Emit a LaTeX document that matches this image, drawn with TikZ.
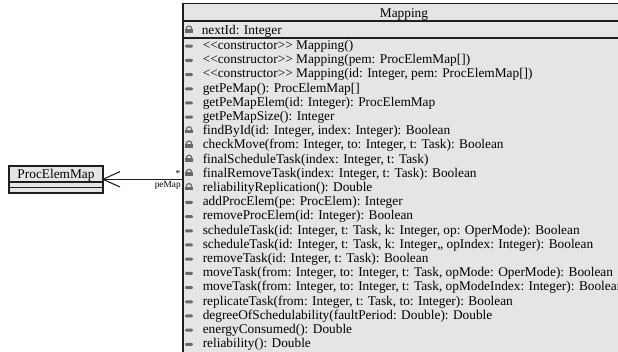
\documentclass[tikz,border=0pt]{standalone}
\usepackage{fontspec}
\setmainfont{Liberation Serif}
\definecolor{umlgray}{RGB}{229,229,229}
\definecolor{umlline}{RGB}{30,30,30}
\definecolor{icongray}{RGB}{105,105,105}
\newcommand\umlstereo[1]{<\kern0pt<#1>\kern0pt>}
\tikzset{
  classbox/.style={fill=umlgray, draw=umlline, line width=0.8pt},
  sepline/.style={draw=umlline, line width=0.8pt},
  member/.style={anchor=base west, inner sep=0pt, font=\fontsize{10}{12}\selectfont},
  titletext/.style={anchor=base, inner sep=0pt, font=\fontsize{10}{12}\selectfont},
  rolelabel/.style={anchor=base east, inner sep=0pt, font=\fontsize{7}{8}\selectfont},
  lockicon/.pic={
    \fill[icongray] (-3.6,-0.4) rectangle (3.6,3.2);
    \draw[icongray, line width=0.9pt] (-2.8,-0.4) .. controls (-2.8,-4.6) and (2.8,-4.6) .. (2.8,-0.4);
  },
  baricon/.pic={
    \fill[icongray, rounded corners=0.8pt] (-3.8,-0.4) rectangle (3.8,2.6);
  }
}
\begin{document}
\begin{tikzpicture}[x=0.75pt,y=-0.75pt]
\useasboundingbox (0,0) rectangle (618,352);
\fill[white] (0,0) rectangle (618,352);

% Mapping class
\path[classbox] (183,3.8) rectangle (626,362);
\draw[sepline] (183,21) -- (626,21);
\draw[sepline] (183,38) -- (626,38);
\node[titletext] (maptitle) at (404,17.2) {Mapping};
\node (mapleft) at (183,179.3) {};
\pic at (189,29.5) {lockicon};
\node[member] (attr) at (201.5,34.2) {nextId: Integer};

\foreach \t [count=\i from 0] in {
  {\umlstereo{constructor} Mapping()},
  {\umlstereo{constructor} Mapping(pem: ProcElemMap[])},
  {\umlstereo{constructor} Mapping(id: Integer, pem: ProcElemMap[])},
  {getPeMap(): ProcElemMap[]},
  {getPeMapElem(id: Integer): ProcElemMap},
  {getPeMapSize(): Integer},
  {findById(id: Integer, index: Integer): Boolean},
  {checkMove(from: Integer, to: Integer, t: Task): Boolean},
  {finalScheduleTask(index: Integer, t: Task)},
  {finalRemoveTask(index: Integer, t: Task): Boolean},
  {reliabilityReplication(): Double},
  {addProcElem(pe: ProcElem): Integer},
  {removeProcElem(id: Integer): Boolean},
  {scheduleTask(id: Integer, t: Task, k: Integer, op: OperMode): Boolean},
  {scheduleTask(id: Integer, t: Task, k: Integer,, opIndex: Integer): Boolean},
  {removeTask(id: Integer, t: Task): Boolean},
  {moveTask(from: Integer, to: Integer, t: Task, opMode: OperMode): Boolean},
  {moveTask(from: Integer, to: Integer, t: Task, opModeIndex: Integer): Boolean},
  {replicateTask(from: Integer, t: Task, to: Integer): Boolean},
  {degreeOfSchedulability(faultPeriod: Double): Double},
  {energyConsumed(): Double},
  {reliability(): Double}}
{
  \pgfmathsetmacro\cy{45.1+14.2*\i}
  \ifnum\i>5 \ifnum\i<11
      \pic at (189,\cy) {lockicon};
    \else
      \pic at (189,\cy) {baricon};
    \fi
  \else
    \pic at (189,\cy) {baricon};
  \fi
  \node[member] (m\i) at (202.5,\cy+4.5) {\t};
}

% ProcElemMap class
\fill[umlline!70] (10,167) rectangle (104.2,194);
\path[classbox] (9,166) rectangle (103,193);
\draw[sepline] (9,182) -- (103,182);
\draw[sepline] (9,187.5) -- (103,187.5);
\node[titletext] (pemtitle) at (56,178.5) {ProcElemMap};
\node (pemright) at (103,179.3) {};

% association
\draw[umlline, line width=0.8pt] (mapleft.center) -- (pemright.center);
\draw[umlline, line width=0.8pt] (120,171.6) -- (pemright.center) -- (120,187);
\node[rolelabel] (mult) at (180.5,176.5) {*};
\node[rolelabel] (role) at (181,188) {peMap};
\end{tikzpicture}
\end{document}
